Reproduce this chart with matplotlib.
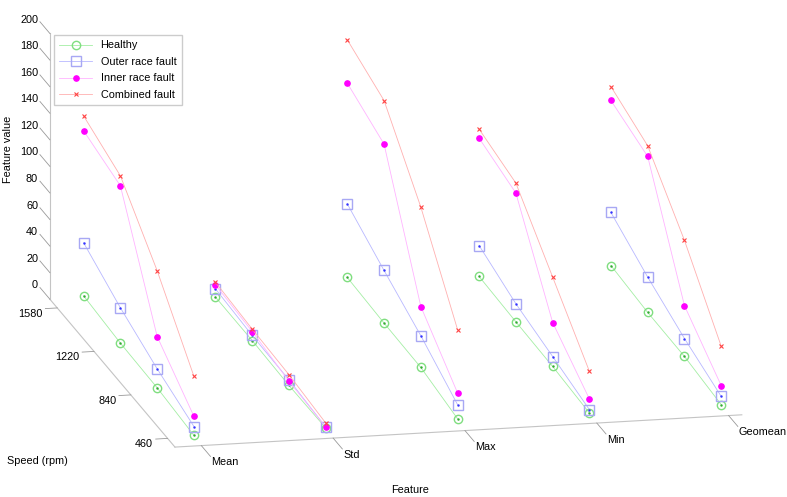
import numpy as np
import matplotlib
matplotlib.use("Agg")
import matplotlib.pyplot as plt
from mpl_toolkits.mplot3d import proj3d

plt.rcParams["font.family"] = ["Liberation Sans", "DejaVu Sans"]
plt.rcParams["font.size"] = 7.8

features = ["Mean", "Std", "Max", "Min", "Geomean"]
speeds = [460, 840, 1220, 1580]

# feature values, one row per feature, speed 460 -> 1580
healthy = [[1.1, 4.2, 5.1, 8.0],
           [1.0, 0.3, 1.4, 1.4],
           [2.3, 8.2, 8.9, 10.5],
           [1.0, 3.3, 4.2, 5.6],
           [1.6, 5.2, 5.6, 8.2]]
outer = [[7.8, 18.5, 31.7, 47.9],
         [1.7, 4.5, 5.2, 7.6],
         [12.9, 32.1, 48.5, 65.9],
         [3.5, 10.8, 17.8, 28.9],
         [7.8, 18.7, 32.2, 48.1]]
inner = [[15.4, 42.8, 123.5, 132.2],
         [1.7, 3.5, 8.2, 10.6],
         [21.7, 54.1, 143.6, 156.8],
         [11.5, 36.4, 101.1, 109.7],
         [15.9, 43.4, 123.0, 132.4]]
combined = [[45.5, 92.3, 131.0, 143.4],
            [4.7, 8.4, 10.0, 12.6],
            [69.3, 128.9, 176.4, 189.4],
            [32.3, 70.6, 108.6, 116.5],
            [45.5, 92.5, 131.0, 142.9]]

series = [
    ("Healthy", healthy, "#a4eea4",
     dict(marker="o", mfc="none", mec="#80de80", ms=6), "#33aa33"),
    ("Outer race fault", outer, "#b8b8ff",
     dict(marker="s", mfc="none", mec="#a8a8f4", ms=6.5), "#3333ff"),
    ("Inner race fault", inner, "#ffb4ff",
     dict(marker="o", mfc="#ff00ff", mec="#ff00ff", ms=3.8), None),
    ("Combined fault", combined, "#ffb0b0",
     dict(marker="x", mec="#ff4444", ms=3.5, mew=0.8), None),
]

XL = (0.8, 5.1)
YL = (0.8, 4.2)
ZL = (0, 200)

fig = plt.figure(figsize=(7.87, 4.97), dpi=100)
ax = fig.add_axes([0, 0, 1, 1], projection="3d", proj_type="ortho")
ax.set_axis_off()
ax.set_xlim(*XL)
ax.set_ylim(*YL)
ax.set_zlim(*ZL)
ax.set_box_aspect((580, 583, 275))
ax.view_init(elev=15.04, azim=-102.38)

xpos = np.arange(1, len(features) + 1)
ypos = np.arange(1, len(speeds) + 1)

for name, vals, color, style, dot in series:
    for i, row in enumerate(vals):
        ax.plot(np.full(len(ypos), xpos[i]), ypos, row, color=color, lw=0.6,
                label=name if i == 0 else None, **style)
        if dot:
            ax.plot(np.full(len(ypos), xpos[i]), ypos, row, ls="none",
                    marker=".", ms=1.5, color=dot)


def proj(x, y, z):
    x2, y2, _ = proj3d.proj_transform(x, y, z, ax.get_proj())
    return float(x2), float(y2)


# axis frame (MATLAB style, box off)
frame = dict(color="#c4c4c4", lw=0.8)
tick = dict(color="#999999", lw=0.6)
ax.plot(XL, [YL[0]] * 2, [0, 0], **frame)
ax.plot([XL[0]] * 2, YL, [0, 0], **frame)
ax.plot([XL[0]] * 2, [YL[1]] * 2, ZL, **frame)

for x, lab in zip(xpos, features):
    ax.plot([x, x], [YL[0], 0.55], [0, 0], **tick)
    ax.text2D(*proj(x, 0.53, 0), lab, ha="left", va="top")

for y, lab in zip(ypos, speeds):
    ax.plot([XL[0], 0.71], [y, y], [0, 0], **tick)
    ax.text2D(*proj(0.69, y, 0), str(lab), ha="right", va="top")

for z in range(0, 201, 20):
    ax.plot([XL[0]] * 2, [YL[1], 4.47], [z, z], **tick)
    ax.text2D(*proj(XL[0], 4.52, z), str(z), ha="right", va="center")

fig.text(8 / 787, 1 - 149 / 497, "Feature value", rotation=90,
         ha="center", va="center")
fig.text(37 / 787, 1 - 461 / 497, "Speed (rpm)", ha="center", va="center")
fig.text(410 / 787, 1 - 490 / 497, "Feature", ha="center", va="center")

ax.legend(loc="upper left", bbox_to_anchor=(54 / 787, 1 - 35 / 497),
          bbox_transform=fig.transFigure, fancybox=False, framealpha=1,
          edgecolor="#cccccc", handlelength=3.0, borderpad=0.5,
          labelspacing=0.6, borderaxespad=0)

# fit the projected box onto the frame position of the original picture
fig.canvas.draw()
W, H = fig.bbox.width, fig.bbox.height


def screen(p):
    return ax.transData.transform(proj(*p))


top = screen((XL[0], YL[1], ZL[1]))
corner = screen((XL[1], YL[0], 0))
want_top = np.array([50, H - 33.3])
want_corner = np.array([741.7, H - 415])

bb = ax.get_position()
c0 = np.array([(bb.x0 + bb.x1) / 2 * W, (bb.y0 + bb.y1) / 2 * H])
S0 = bb.width * W
scale = np.linalg.norm(want_corner - want_top) / np.linalg.norm(corner - top)
S = S0 * scale
q_mid = ((top + corner) / 2 - c0) / S0
c = (want_top + want_corner) / 2 - S * q_mid
ax.set_position([(c[0] - S / 2) / W, (c[1] - S / 2) / H, S / W, S / H])

fig.savefig("out.png", dpi=100)
